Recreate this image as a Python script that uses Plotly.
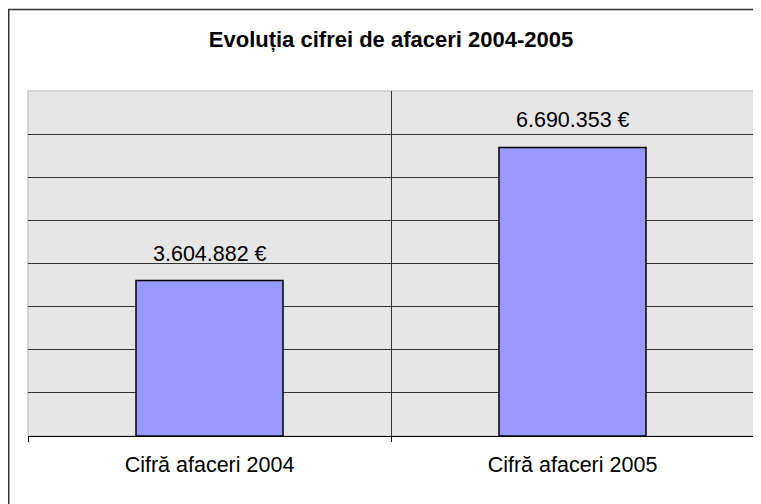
import plotly.graph_objects as go

categories = ["Cifră afaceri 2004", "Cifră afaceri 2005"]
values = [3604882, 6690353]
title_text = "Evoluția cifrei de afaceri 2004-2005"


def fmt(v):
    return f"{v:,}".replace(",", ".") + " €"


labels = [fmt(v) for v in values]

fig = go.Figure()
fig.add_trace(go.Bar(
    x=categories, y=values,
    marker=dict(color="#9999FF", line=dict(color="#000000", width=1.5)),
    hoverinfo="skip",
))

for c, v, t in zip(categories, values, labels):
    fig.add_annotation(x=c, y=v, text=t, showarrow=False, yanchor="bottom",
                       yshift=13, font=dict(size=21.5, color="#000000",
                                            family="Liberation Sans, Arial, sans-serif"))

W, H = 761, 504
ml, mr, mt, mb = 20, 15, 83, 76
pw, ph = W - ml - mr, H - mt - mb

# plot area light border
fig.add_shape(type="rect", xref="paper", yref="paper", x0=0, x1=1, y0=0, y1=1,
              line=dict(color="#C8C8C8", width=1.5), layer="below")
# outer chart frame (top and left visible)
fig.add_shape(type="rect", xref="paper", yref="paper",
              x0=(0.75 - ml) / pw, x1=(W + 20 - ml) / pw,
              y0=-(H + 20 - (H - mb)) / ph, y1=1 + (mt - 1.5) / ph,
              line=dict(color="#333333", width=1.5), layer="above")

fig.update_layout(
    width=W, height=H,
    margin=dict(l=ml, r=mr, t=mt, b=mb, pad=0),
    paper_bgcolor="#FFFFFF", plot_bgcolor="#E6E6E6",
    showlegend=False,
    bargap=0.595,
    title=dict(text=title_text, x=0.5, xref="paper", xanchor="center",
               y=1 - 31 / H, yref="container", yanchor="middle",
               font=dict(size=22, color="#000000",
                         family="Liberation Sans, Arial, sans-serif", weight="bold")),
    font=dict(family="Liberation Sans, Arial, sans-serif", color="#000000"),
)
fig.update_xaxes(
    showline=True, linecolor="#000000", linewidth=1,
    ticks="outside", ticklen=5, tickcolor="#000000", tickwidth=1,
    tickson="boundaries", showgrid=True, gridcolor="#333333", gridwidth=1,
    tickfont=dict(size=21.5, color="#000000"), ticklabelstandoff=9,
)
fig.update_yaxes(
    range=[0, 8000000], dtick=1000000, showticklabels=False,
    showgrid=True, gridcolor="#333333", gridwidth=1, zeroline=False,
    showline=False,
)

fig.write_html("out.html")
